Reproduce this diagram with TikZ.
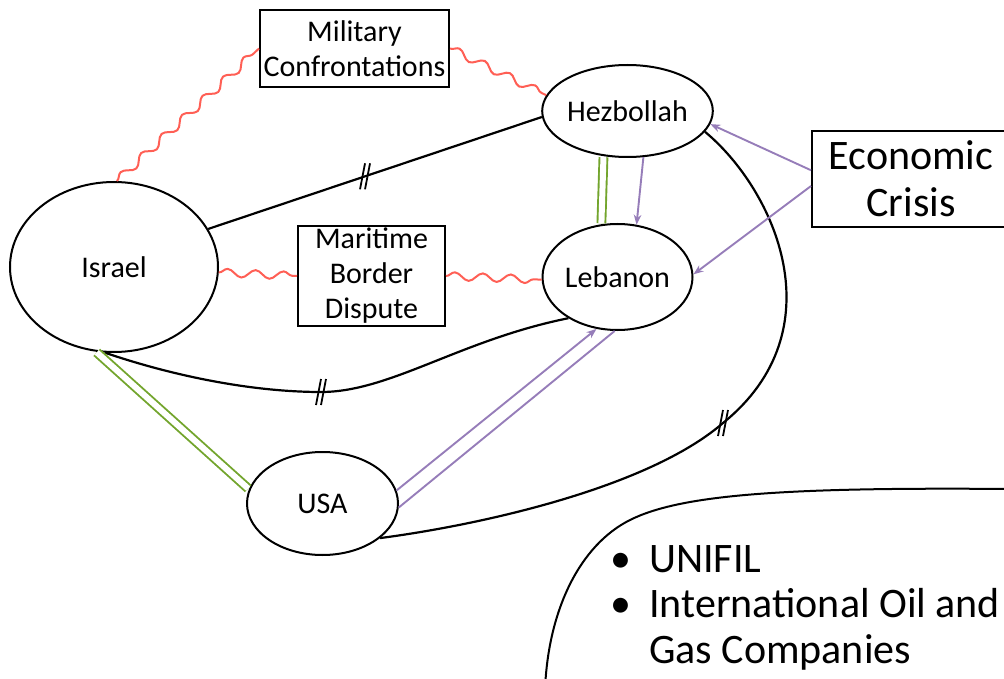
\documentclass[tikz,border=0pt]{standalone}
\usepackage{fontspec}
\setmainfont{Carlito}
\usepackage{tikz}
\usetikzlibrary{arrows.meta,shapes.geometric,decorations.pathmorphing}
\definecolor{disputered}{RGB}{255,95,85}
\definecolor{allygreen}{RGB}{115,165,45}
\definecolor{pressurepurple}{RGB}{150,125,185}

\begin{document}
\begin{tikzpicture}[x=1pt, y=-1pt, >={Stealth[length=10pt,width=7.5pt]},
  actor/.style={draw,ellipse,line width=2pt,inner sep=0pt,font=\fontsize{30}{35}\selectfont},
  issue/.style={draw,rectangle,line width=2pt,inner sep=0pt,align=center,font=\fontsize{30}{35}\selectfont},
  conflict/.style={disputered,line width=2pt,decorate,decoration={snake,amplitude=4pt,segment length=28pt}},
  alliance/.style={allygreen,double=white,line width=1.9pt,double distance=6pt,shorten <=1pt,shorten >=1pt},
  pressure/.style={pressurepurple,line width=1.9pt},
  rivalry/.style={line width=2.2pt},
  cut/.pic={\draw[line width=1.8pt] (-5,13) -- (0,-13) (0,13) -- (5,-13);}]
\useasboundingbox (0,0) rectangle (1004,679);
% actors
\node[actor,minimum width=208pt,minimum height=170pt] (israel) at (114,267) {Israel};
\node[actor,minimum width=151pt,minimum height=92pt] (hez) at (627.5,111) {Hezbollah};
\node[actor,minimum width=150pt,minimum height=106pt] (lebanon) at (617.5,277) {Lebanon};
\node[actor,minimum width=151pt,minimum height=103pt] (usa) at (322.5,503.5) {USA};
% issues
\node[issue,minimum width=189pt,minimum height=77pt] (military) at (354.5,48.5) {Military\\Confrontations};
\node[issue,minimum width=147pt,minimum height=100pt] (maritime) at (371.5,276) {Maritime\\Border\\Dispute};
\node[issue,minimum width=198pt,minimum height=96pt,font=\fontsize{42}{47}\selectfont] (crisis) at (911,179) {Economic\\Crisis};
% other players
\draw[line width=2pt] (1010,489) .. controls (780,487) and (680,495) .. (630,520) .. controls (580,545) and (548,610) .. (545,690);
\node[anchor=base west,inner sep=0pt,align=left,font=\fontsize{42}{45.5}\selectfont] (others) at (610,663)
  {\makebox[39pt][l]{•}UNIFIL\\ \makebox[39pt][l]{•}International Oil and\\ \hspace*{39pt}Gas Companies};
% conflicts
\draw[conflict] (israel.88) -- (military.west);
\draw[conflict] (military.east) -- (hez.169);
\draw[conflict] (israel.357) -- (maritime.west);
\draw[conflict] (maritime.east) -- (lebanon.182);
% rivalries
\draw[rivalry] (israel.22) -- coordinate[pos=0.47] (cutA) (hez.184);
\draw[rivalry] (israel.264) .. controls (170,375) and (250,392) .. (321,392) coordinate (cutB)
  .. controls (390,392) and (460,340) .. (lebanon.220);
\draw[rivalry] (hez.-15) .. controls (775,190) and (838,330) .. (723,423) coordinate (cutC)
  .. controls (648,488) and (480,525) .. (usa.-31);
\pic at (cutA) {cut};
\pic at (cutB) {cut};
\pic at (cutC) {cut};
% alliances
\draw[alliance] (israel.258) -- (usa.169);
\draw[alliance] (hez.242) -- (lebanon.107);
% pressure
\draw[pressure,->] (hez.289) -- (lebanon.70);
\draw[pressure,->] (crisis.175) -- (hez.351);
\draw[pressure,->] (crisis.184) -- (lebanon.2);
\draw[pressure,->] (usa.10) -- (lebanon.248);
\draw[pressure] (usa.357) -- (lebanon.267);
\end{tikzpicture}
\end{document}
